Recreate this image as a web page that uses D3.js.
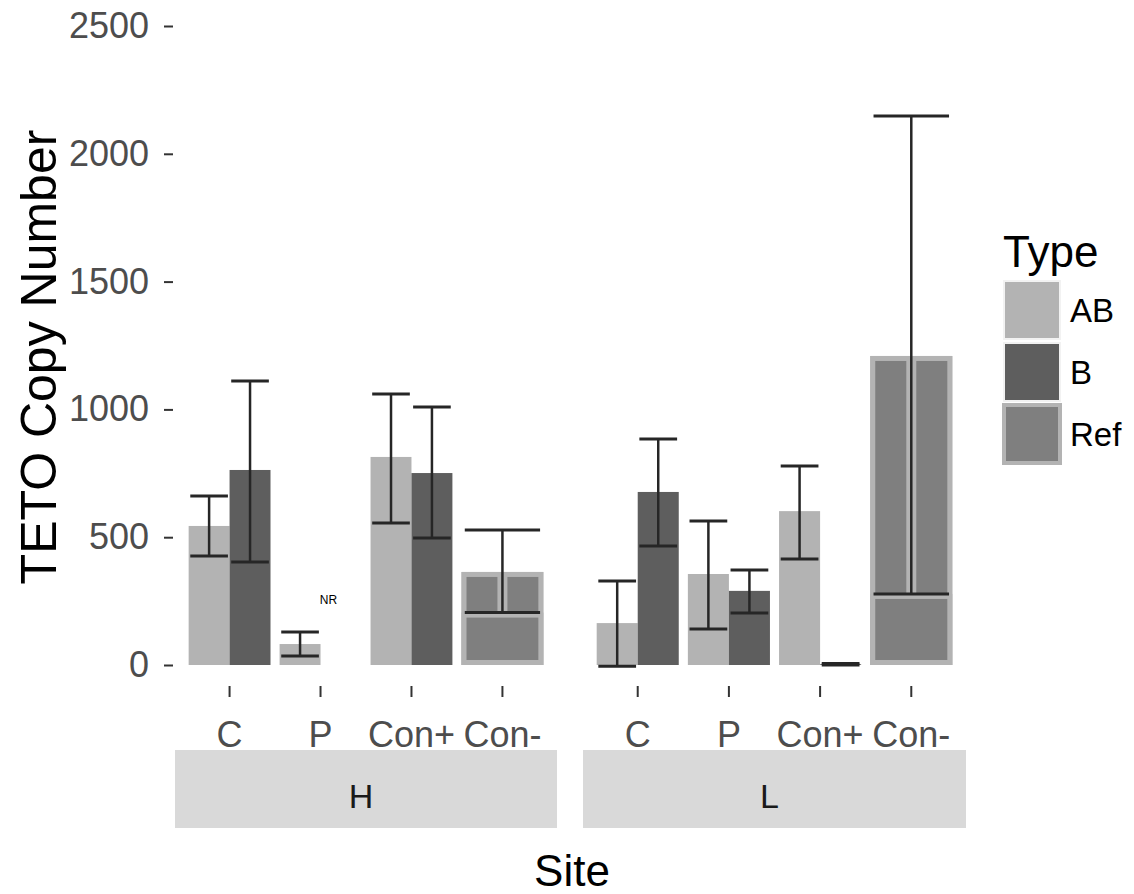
<!DOCTYPE html>
<html>
<head>
<meta charset="utf-8">
<script src="https://cdn.jsdelivr.net/npm/d3@7"></script>
<style>
  body { margin: 0; background: #fff; }
  text { font-family: "Liberation Sans", Arial, sans-serif; }
</style>
</head>
<body>
<script>
const width = 1134;
const height = 894;

// facet sites and x categories
const sites = ["H", "L"];
const categories = ["C", "P", "Con+", "Con-"];
const yTicks = [0, 500, 1000, 1500, 2000, 2500];

// AB (one row per site, one value per category, null = no bar)
const abMean = [[544, 82, 814, null], [164, 356, 602, null]];
const abLow  = [[426, 35, 556, null], [-5, 141, 415, null]];
const abHigh = [[661, 129, 1060, null], [329, 563, 779, null]];

// B
const bMean = [[763, null, 751, null], [677, 290, 3, null]];
const bLow  = [[403, null, 497, null], [466, 203, 0, null]];
const bHigh = [[1111, null, 1009, null], [884, 372, 6, null]];

// Ref (only Con-)
const refMean = [364, 1209];
const refLow  = [205, 278];
const refHigh = [528, 2148];

const colors = { AB: "#b3b3b3", B: "#5e5e5e", Ref: "#7f7f7f" };

const svg = d3.select("body")
    .append("svg")
    .attr("width", width)
    .attr("height", height)

const y = d3.scaleLinear()
    .domain([0, 2500])
    .range([665, 26]);

const panels = [[175, 557], [583, 966]];

// y axis ticks + labels
const yAxis = d3.axisLeft(y)
    .tickValues(yTicks)
    .tickFormat(d3.format("d"))
    .tickSize(9)
    .tickPadding(15)

svg.append("g")
    .attr("transform", "translate(173,0)")
    .call(yAxis)
    .call(g => g.select(".domain").remove())
    .call(g => g.selectAll("line").attr("stroke", "#333").attr("stroke-width", 2))
    .call(g => g.selectAll("text")
        .attr("fill", "#4d4d4d")
        .style("font-size", "36px")
        .style("font-family", "Liberation Sans, Arial, sans-serif"))

svg.append("text")
    .attr("transform", "translate(56,357) rotate(-90)")
    .attr("text-anchor", "middle")
    .style("font-size", "50px")
    .attr("fill", "#000")
    .text("TETO Copy Number")

sites.forEach((site, s) => {
    const x = d3.scaleBand()
        .domain(categories)
        .range(panels[s])
        .paddingInner(0)
        .paddingOuter(0.1);

    const g = svg.append("g");
    const bw = x.bandwidth() * 0.9;
    const half = bw / 2;

    const xAxis = d3.axisBottom(x)
        .tickSize(11)
        .tickPadding(24)

    g.append("g")
        .attr("transform", "translate(0,686)")
        .call(xAxis)
        .call(a => a.select(".domain").remove())
        .call(a => a.selectAll("line").attr("stroke", "#333").attr("stroke-width", 2))
        .call(a => a.selectAll("text")
            .attr("fill", "#4d4d4d")
            .style("font-size", "36px")
            .style("font-family", "Liberation Sans, Arial, sans-serif"))

    // strip
    g.append("rect")
        .attr("x", panels[s][0])
        .attr("y", 750)
        .attr("width", panels[s][1] - panels[s][0])
        .attr("height", 78)
        .attr("fill", "#d9d9d9")
    g.append("text")
        .attr("x", (panels[s][0] + panels[s][1]) / 2 - 5)
        .attr("y", 808)
        .attr("text-anchor", "middle")
        .style("font-size", "34px")
        .attr("fill", "#1a1a1a")
        .text(site)

    const errs = [];

    categories.forEach((cat, i) => {
        const left = x(cat) + (x.bandwidth() - bw) / 2;
        if (abMean[s][i] != null) {
            g.append("rect")
                .attr("x", left).attr("width", half)
                .attr("y", y(abMean[s][i]))
                .attr("height", y(0) - y(abMean[s][i]))
                .attr("fill", colors.AB)
            errs.push([left + half / 2, abLow[s][i], abHigh[s][i], half]);
        }
        if (bMean[s][i] != null) {
            g.append("rect")
                .attr("x", left + half).attr("width", half)
                .attr("y", y(bMean[s][i]))
                .attr("height", y(0) - y(bMean[s][i]))
                .attr("fill", colors.B)
            errs.push([left + half * 1.5, bLow[s][i], bHigh[s][i], half]);
        }
        if (cat === "Con-") {
            // overlapping Ref bars: full width, two halves, then the lower full bar
            const parts = [
                [left, bw, refMean[s]],
                [left, half, refMean[s]],
                [left + half, half, refMean[s]],
                [left, bw, refLow[s]]
            ];
            parts.forEach(p => {
                g.append("rect")
                    .attr("x", p[0] + 2.5).attr("width", p[1] - 5)
                    .attr("y", y(p[2]) + 2.5)
                    .attr("height", y(0) - y(p[2]) - 5)
                    .attr("fill", colors.Ref)
                    .attr("stroke", "#b3b3b3")
                    .attr("stroke-width", 5)
            });
            errs.push([left + bw / 2, refLow[s], refHigh[s], bw]);
        }
    });

    // error bars
    errs.forEach(e => {
        const cx = e[0], cap = e[3] * 0.92;
        g.append("line")
            .attr("x1", cx).attr("x2", cx)
            .attr("y1", y(e[1])).attr("y2", y(e[2]))
            .attr("stroke", "#262626").attr("stroke-width", 2.5)
        ;[e[1], e[2]].forEach(v => {
            g.append("line")
                .attr("x1", cx - cap / 2).attr("x2", cx + cap / 2)
                .attr("y1", y(v)).attr("y2", y(v))
                .attr("stroke", "#262626").attr("stroke-width", 3)
        });
    });

    if (s === 0) {
        g.append("text")
            .attr("x", x("P") + x.bandwidth() / 2 + 8)
            .attr("y", 604)
            .attr("text-anchor", "middle")
            .style("font-size", "12px")
            .attr("fill", "#000")
            .text("NR")
    }
});

svg.append("text")
    .attr("x", 572)
    .attr("y", 886)
    .attr("text-anchor", "middle")
    .style("font-size", "44px")
    .attr("fill", "#000")
    .text("Site")

// legend
const legendTypes = ["AB", "B", "Ref"];
const legend = svg.append("g").attr("transform", "translate(1003,0)");
legend.append("text")
    .attr("x", 0).attr("y", 267)
    .style("font-size", "44px")
    .attr("fill", "#000")
    .text("Type")

legend.selectAll("g.key")
    .data(legendTypes)
    .enter()
    .append("g")
    .attr("class", "key")
    .attr("transform", (d, i) => `translate(0,${280 + i * 62})`)
    .each(function (d) {
        const k = d3.select(this);
        k.append("rect")
            .attr("x", 1).attr("y", 1)
            .attr("width", 56).attr("height", 58)
            .attr("fill", colors[d])
            .attr("stroke", d === "Ref" ? "#b3b3b3" : "#f2f2f2")
            .attr("stroke-width", d === "Ref" ? 4 : 2)
        k.append("text")
            .attr("x", 67).attr("y", 42)
            .style("font-size", "33px")
            .attr("fill", "#000")
            .text(d)
    })
</script>
</body>
</html>
